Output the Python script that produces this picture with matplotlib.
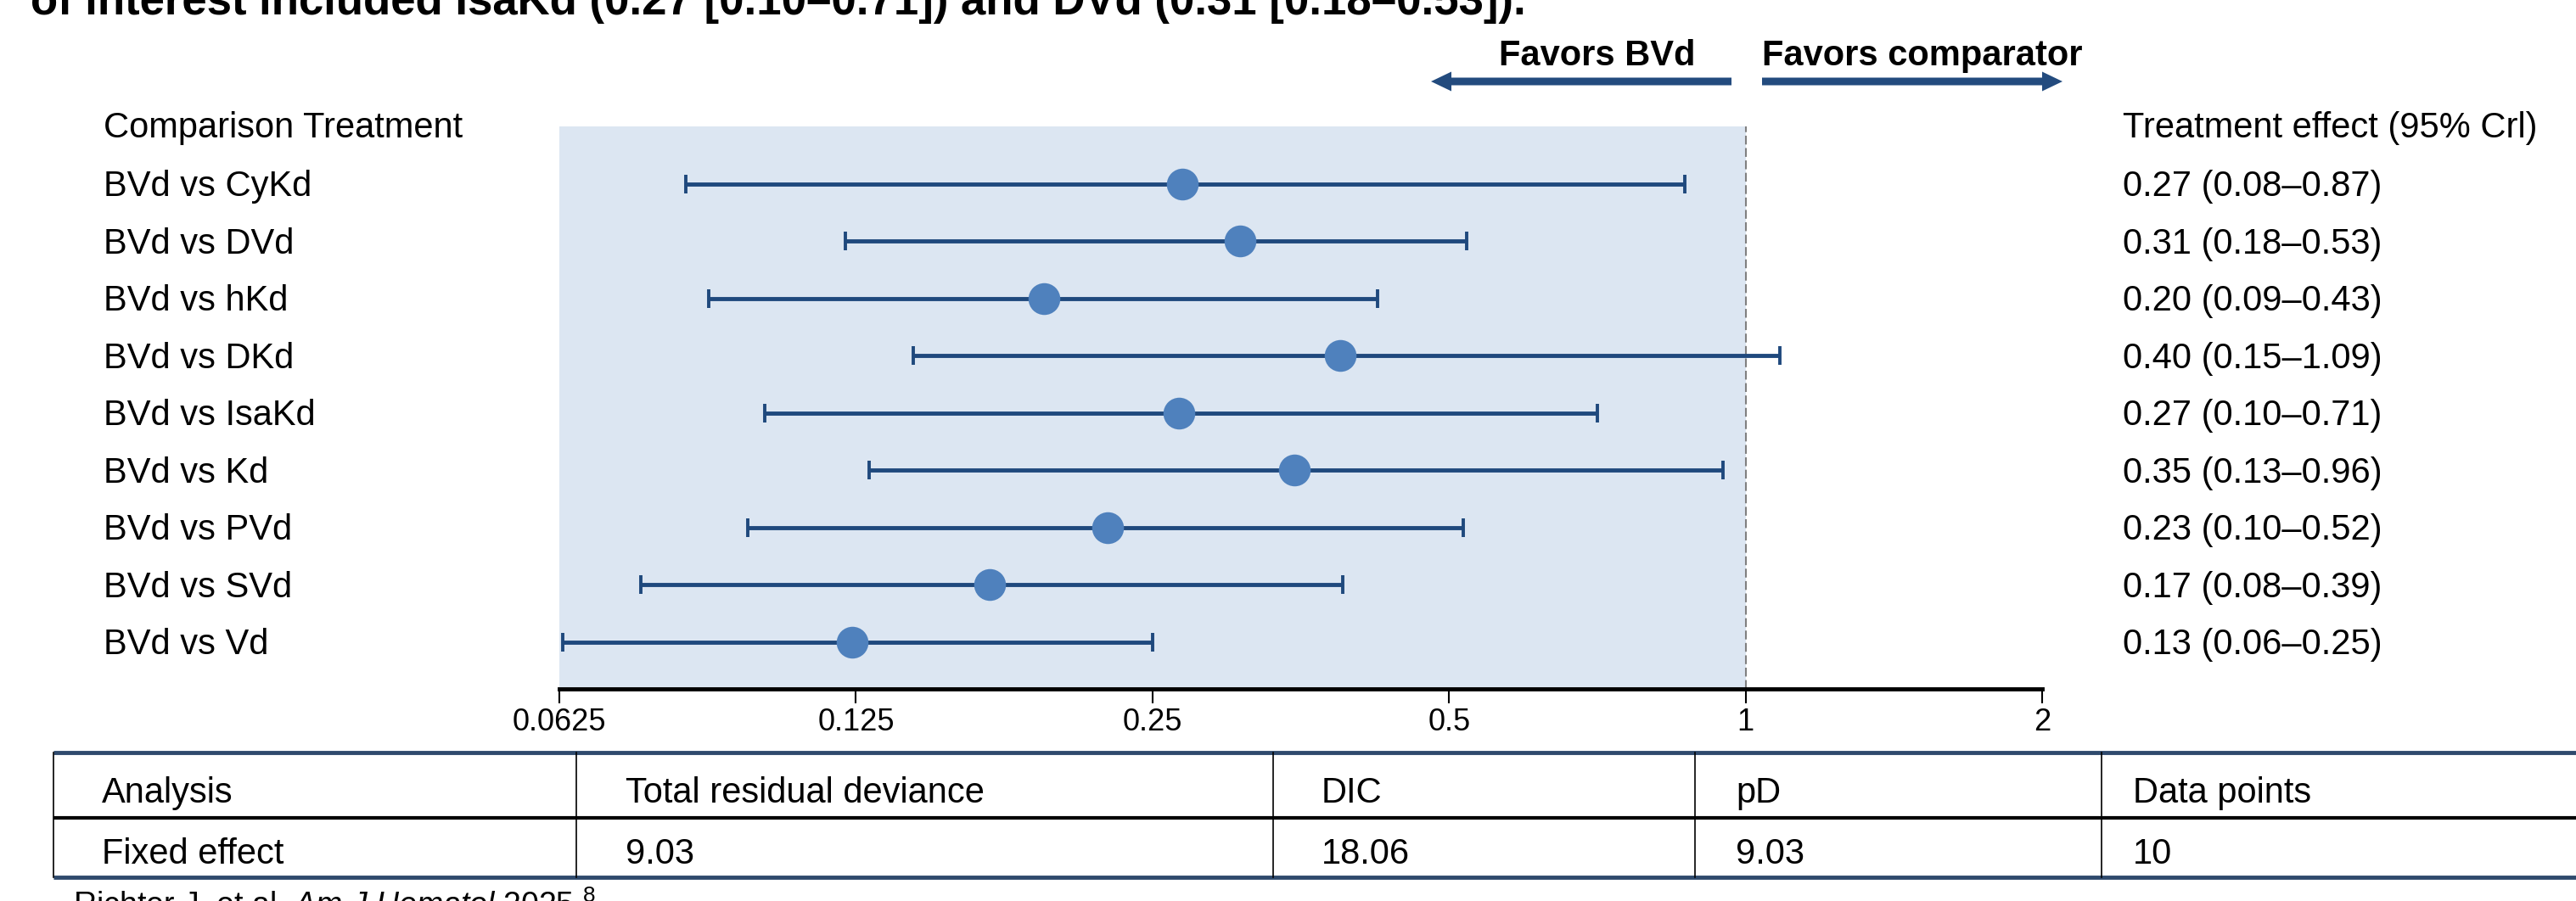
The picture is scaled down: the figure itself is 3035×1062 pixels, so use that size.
import numpy as np
import matplotlib
matplotlib.use("Agg")
import matplotlib.pyplot as plt
from matplotlib.patches import FancyArrow

plt.rcParams['font.family'] = ['Liberation Sans', 'DejaVu Sans']
plt.rcParams['mathtext.fontset'] = 'custom'
plt.rcParams['mathtext.rm'] = 'Liberation Sans'
plt.rcParams['mathtext.it'] = 'Liberation Sans:italic'

# data
comparisons = ["BVd vs CyKd", "BVd vs DVd", "BVd vs hKd", "BVd vs DKd", "BVd vs IsaKd",
               "BVd vs Kd", "BVd vs PVd", "BVd vs SVd", "BVd vs Vd"]
effect_labels = ["0.27 (0.08\u20130.87)", "0.31 (0.18\u20130.53)", "0.20 (0.09\u20130.43)",
                 "0.40 (0.15\u20131.09)", "0.27 (0.10\u20130.71)", "0.35 (0.13\u20130.96)",
                 "0.23 (0.10\u20130.52)", "0.17 (0.08\u20130.39)", "0.13 (0.06\u20130.25)"]
estimate = [0.268, 0.307, 0.194, 0.388, 0.266, 0.348, 0.225, 0.171, 0.124]
lower = [0.084, 0.122, 0.0886, 0.143, 0.101, 0.129, 0.097, 0.0756, 0.063]
upper = [0.867, 0.521, 0.423, 1.083, 0.707, 0.948, 0.517, 0.390, 0.250]

x_ticks = [0.0625, 0.125, 0.25, 0.5, 1, 2]
x_ticklabels = ["0.0625", "0.125", "0.25", "0.5", "1", "2"]

table_header = ["Analysis", "Total residual deviance", "DIC", "pD", "Data points"]
table_row = ["Fixed effect", "9.03", "18.06", "9.03", "10"]

title_text = "of interest included IsaKd (0.27 [0.10\u20130.71]) and DVd (0.31 [0.18\u20130.53])."

W, H = 3035, 1062
NAVY = '#1f497d'
MARKER = '#4f81bd'
SHADE = '#dce6f2'

fig = plt.figure(figsize=(W / 100, H / 100), dpi=100)

# overlay in pixel coords for the table, arrows and free text
ov = fig.add_axes([0, 0, 1, 1])
ov.set_xlim(0, W)
ov.set_ylim(H, 0)
ov.axis('off')

# forest plot axes
left, right, top, bottom = 659, 2406, 149, 812
ax = fig.add_axes([left / W, 1 - bottom / H, (right - left) / W, (bottom - top) / H])
ax.set_facecolor('none')
ax.set_xscale('log', base=2)
ax.set_xlim(0.0625, 2)
ax.set_ylim(8.815, -1.007)

ax.axvspan(0.0625, 1, color=SHADE, zorder=0, lw=0)
ax.axvline(1, color='#808080', lw=1.5, ls=(0, (5, 2)), zorder=1)

y = np.arange(len(comparisons))
est = np.array(estimate)
ax.errorbar(est, y, xerr=[est - np.array(lower), np.array(upper) - est],
            fmt='none', ecolor=NAVY, elinewidth=3.5, capsize=8, capthick=2.8, zorder=2)
ax.plot(est, y, 'o', color=MARKER, ms=27, mec='none', zorder=3)

for s in ['top', 'right', 'left']:
    ax.spines[s].set_visible(False)
ax.spines['bottom'].set_linewidth(3.5)
ax.set_yticks([])
ax.set_xticks(x_ticks)
ax.set_xticklabels(x_ticklabels)
ax.xaxis.set_minor_locator(matplotlib.ticker.NullLocator())
ax.tick_params(axis='x', length=12, width=1.5, labelsize=26, pad=4)

# row labels and effect column
trans = ax.get_yaxis_transform()
lab_x = (122 - left) / (right - left)
eff_x = (2501 - left) / (right - left)
ax.text(lab_x, -1.03 + 0.21, "Comparison Treatment", transform=trans, fontsize=30,
        va='baseline', ha='left')
ax.text(eff_x, -1.03 + 0.21, "Treatment effect (95% Crl)", transform=trans, fontsize=30,
        va='baseline', ha='left')
for i, (c, e) in enumerate(zip(comparisons, effect_labels)):
    ax.text(lab_x, i + 0.21, c, transform=trans, fontsize=30, va='baseline', ha='left')
    ax.text(eff_x, i + 0.21, e, transform=trans, fontsize=30, va='baseline', ha='left')

# favors arrows
ov.text(1882, 77, "Favors BVd", fontsize=30, fontweight='bold', ha='center', va='baseline')
ov.text(2076, 77, "Favors comparator", fontsize=30, fontweight='bold', ha='left', va='baseline')
ov.add_patch(FancyArrow(2040, 96, -(2040 - 1686), 0, width=9, head_width=23, head_length=24,
                        length_includes_head=True, color='#234b7e', lw=0))
ov.add_patch(FancyArrow(2076, 96, 2430 - 2076, 0, width=9, head_width=23, head_length=24,
                        length_includes_head=True, color='#234b7e', lw=0))

# clipped title at the top
fig.text(36 / W, 1 - 17 / H, title_text, fontsize=38, fontweight='bold', va='baseline')

# fit statistics table
t_top, t_mid, t_bot = 887, 964, 1034
col_edges = [63, 679, 1500, 1997, 2476]
cell_x = [120, 737, 1557, 2045, 2513]
ov.plot([63, W], [t_top, t_top], color='#2f4a6d', lw=3.5, solid_capstyle='butt')
ov.plot([63, W], [t_bot, t_bot], color='#2f4a6d', lw=3.5, solid_capstyle='butt')
ov.plot([63, W], [t_mid, t_mid], color='black', lw=3, solid_capstyle='butt')
for xe in col_edges:
    ov.plot([xe, xe], [t_top, t_bot], color='black', lw=1.2)
for xc, h, v in zip(cell_x, table_header, table_row):
    ov.text(xc, 946, h, fontsize=30, va='baseline', ha='left')
    ov.text(xc, 1018, v, fontsize=30, va='baseline', ha='left')

# source line, cut off at the bottom edge
fig.text(86 / W, 1 - 1079 / H, r"Richter J, et al. $\mathit{Am\ J\ Hematol}$ 2025.$^{8}$",
         fontsize=27, va='baseline')

fig.savefig("out.png", dpi=100)
